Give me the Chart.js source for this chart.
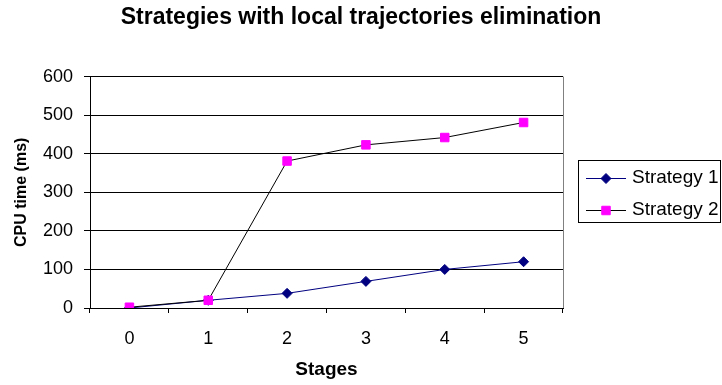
<!DOCTYPE html>
<html>
<head>
<meta charset="utf-8">
<script src="https://cdn.jsdelivr.net/npm/chart.js@4.4.0/dist/chart.umd.min.js"></script>
<style>
html, body { margin:0; padding:0; background:#fff; }
</style>
</head>
<body>
<canvas id="c" width="722" height="385"></canvas>
<script>
const stages = ['0', '1', '2', '3', '4', '5'];
const strategy1 = [0, 20, 38, 69, 100, 120];
const strategy2 = [2, 20, 381, 423, 442, 481];
const yMin = 0, yMax = 600, yStep = 100;

const FONT = "'Liberation Sans', Arial, sans-serif";

// plot border on the right + boxed legend with line and marker
const legendBox = {
	id: 'legendBox',
	afterDraw(chart) {
		const ctx = chart.ctx, a = chart.chartArea;
		ctx.save();
		ctx.strokeStyle = '#808080';
		ctx.lineWidth = 1;
		ctx.beginPath();
		ctx.moveTo(Math.round(a.right) + 0.5, a.top);
		ctx.lineTo(Math.round(a.right) + 0.5, a.bottom);
		ctx.stroke();

		const x0 = 578, y0 = 160, w = 142, h = 62;
		ctx.strokeStyle = '#000';
		ctx.strokeRect(x0 + 0.5, y0 + 0.5, w, h);

		ctx.font = '19px ' + FONT;
		ctx.textBaseline = 'middle';
		ctx.fillStyle = '#000';
		chart.data.datasets.forEach((ds, i) => {
			const y = 178 + i * 32;
			ctx.strokeStyle = ds.borderColor;
			ctx.beginPath();
			ctx.moveTo(586, y + 0.5);
			ctx.lineTo(626, y + 0.5);
			ctx.stroke();
			ctx.fillStyle = ds.pointBackgroundColor;
			ctx.strokeStyle = ds.pointBorderColor;
			Chart.helpers.drawPoint(ctx, {pointStyle: ds.pointStyle, radius: ds.pointRadius, rotation: 0, borderWidth: 1}, 606, y + 0.5);
			ctx.fillStyle = '#000';
			ctx.fillText(ds.label, 632, y);
		});
		ctx.restore();
	}
};

new Chart(document.getElementById('c'), {
	type: 'line',
	data: {
		labels: stages,
		datasets: [{
			label: 'Strategy 1',
			data: strategy1,
			borderColor: '#000080',
			borderWidth: 1,
			pointStyle: 'rectRot',
			pointRadius: 5,
			pointBackgroundColor: '#000080',
			pointBorderColor: '#000080',
			tension: 0,
			order: 1,
		},
		{
			label: 'Strategy 2',
			data: strategy2,
			borderColor: '#000000',
			borderWidth: 1,
			pointStyle: 'rect',
			pointRadius: 6,
			pointBackgroundColor: '#FF00FF',
			pointBorderColor: '#FF00FF',
			tension: 0,
			order: 0,
		}]
	},
	options: {
		responsive: false,
		animation: false,
		devicePixelRatio: 1,
		layout: { padding: 0 },
		plugins: {
			legend: { display: false },
			tooltip: { enabled: false },
			title: {
				display: true,
				text: 'Strategies with local trajectories elimination',
				color: '#000',
				font: { family: FONT, size: 23, weight: 'bold' },
				padding: { top: 4, bottom: 45 },
			},
		},
		scales: {
			x: {
				offset: true,
				afterFit(s) { s.height = 77; },
				grid: { offset: true, drawOnChartArea: false, drawTicks: true, tickLength: 5, color: '#000' },
				border: { color: '#000', width: 1 },
				ticks: { color: '#000', font: { family: FONT, size: 18 }, padding: 15, maxRotation: 0 },
				title: { display: true, text: 'Stages', color: '#000', font: { family: FONT, size: 19, weight: 'bold' }, padding: { top: 0, bottom: 4 } },
			},
			y: {
				min: yMin,
				max: yMax,
				afterFit(s) { s.width = 90; },
				grid: { color: '#000', tickLength: 6 },
				border: { color: '#000', width: 1 },
				ticks: { stepSize: yStep, color: '#000', font: { family: FONT, size: 18 }, padding: 11 },
				title: { display: true, text: 'CPU time (ms)', color: '#000', font: { family: FONT, size: 16, weight: 'bold' }, padding: { top: 12, bottom: 0 } },
			},
			y2: {
				position: 'right',
				afterFit(s) { s.width = 159; },
				grid: { display: false },
				border: { display: false },
				ticks: { display: false },
			},
		}
	},
	plugins: [legendBox]
});
</script>
</body>
</html>
